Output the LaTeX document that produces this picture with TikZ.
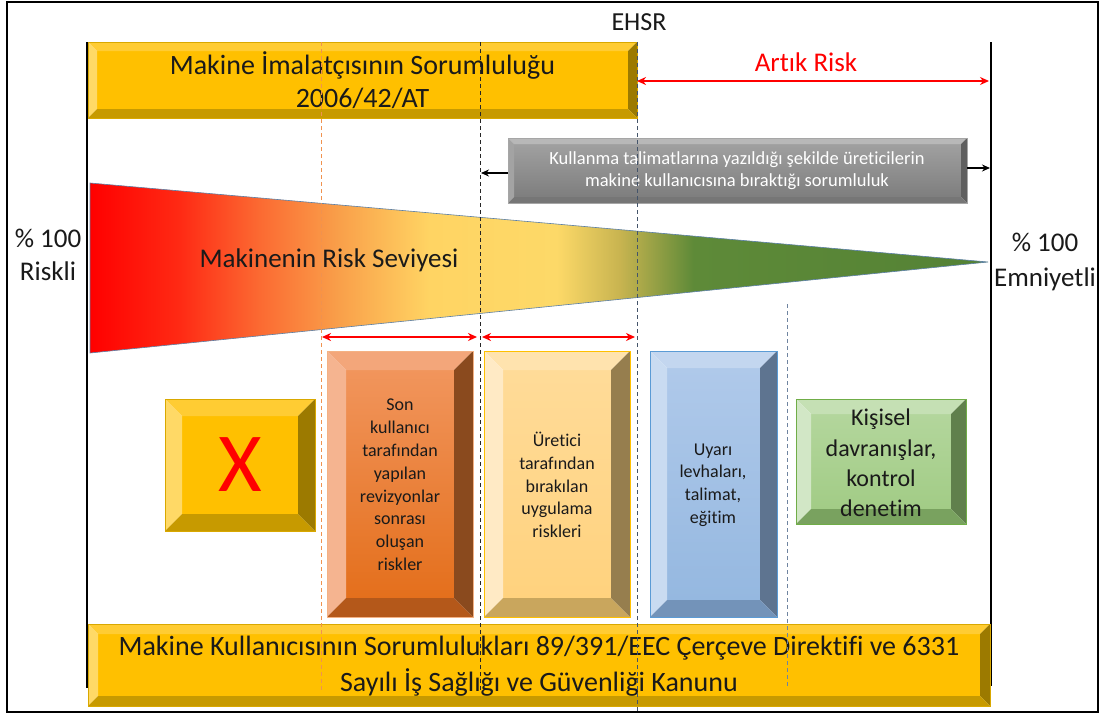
\documentclass[tikz,border=0pt]{standalone}
\usepackage{fontspec}
\setmainfont{Carlito}[Ligatures=NoCommon]
\usetikzlibrary{arrows.meta}

% gradient of the risk triangle
\definecolor{rk1}{HTML}{FF0000}
\definecolor{rk2}{HTML}{FF2A14}
\definecolor{rk3}{HTML}{FB6A32}
\definecolor{rk4}{HTML}{F9A04A}
\definecolor{rk5}{HTML}{FFD463}
\definecolor{rk6}{HTML}{FDD968}
\definecolor{rk7}{HTML}{C8B450}
\definecolor{rk8}{HTML}{5E8A38}
\definecolor{rk9}{HTML}{548235}
\pgfdeclarehorizontalshading{risk}{100bp}{color(0bp)=(rk1); color(25bp)=(rk1); color(30bp)=(rk2); color(34.44bp)=(rk3); color(38.89bp)=(rk4); color(43.89bp)=(rk5); color(51bp)=(rk6); color(54.5bp)=(rk7); color(58.6bp)=(rk8); color(75bp)=(rk9); color(100bp)=(rk9)}

% bevel colours
\definecolor{goldT}{HTML}{FFCC33}
\definecolor{goldL}{HTML}{FFD966}
\definecolor{goldR}{HTML}{9C7A00}
\definecolor{goldB}{HTML}{C79A00}
\definecolor{goldE}{HTML}{D9A800}
\definecolor{orT}{HTML}{F3A67A}
\definecolor{orL}{HTML}{F5B490}
\definecolor{orR}{HTML}{8A4A1E}
\definecolor{orB}{HTML}{B4581A}
\definecolor{orE}{HTML}{F4B183}
\definecolor{yeT}{HTML}{FFE3AE}
\definecolor{yeL}{HTML}{FFEAC5}
\definecolor{yeR}{HTML}{967E4E}
\definecolor{yeB}{HTML}{C9A65D}
\definecolor{yeE}{HTML}{FFC000}
\definecolor{blT}{HTML}{C3D6EF}
\definecolor{blL}{HTML}{C9DBF1}
\definecolor{blR}{HTML}{5E7490}
\definecolor{blB}{HTML}{7393B9}
\definecolor{blE}{HTML}{5B9BD5}
\definecolor{gnT}{HTML}{C5E0B4}
\definecolor{gnL}{HTML}{D2E7C6}
\definecolor{gnR}{HTML}{60804C}
\definecolor{gnB}{HTML}{79A25F}
\definecolor{gnE}{HTML}{70AD47}
\definecolor{gyT}{HTML}{B8B8B8}
\definecolor{gyL}{HTML}{A3A3A3}
\definecolor{gyR}{HTML}{5F5F5F}
\definecolor{gyB}{HTML}{767676}
\definecolor{gyE}{HTML}{A6A6A6}
\definecolor{ehsrline}{HTML}{44546A}
\definecolor{orline}{HTML}{F0924F}
\definecolor{gyline}{HTML}{6F84A0}
\definecolor{triedge}{HTML}{5B7FA6}

\definecolor{goldFace}{HTML}{FFC000}
\definecolor{orTop}{HTML}{F1955C}
\definecolor{orBot}{HTML}{E46F1C}
\definecolor{yeTop}{HTML}{FFDB98}
\definecolor{yeBot}{HTML}{FFD27E}
\definecolor{blTop}{HTML}{AFC9EA}
\definecolor{blBot}{HTML}{95B8E0}
\definecolor{gnTop}{HTML}{B3D69C}
\definecolor{gnBot}{HTML}{A2CC86}
\definecolor{gyTop}{HTML}{A0A0A0}
\definecolor{gyBot}{HTML}{7E7E7E}
\definecolor{txt}{HTML}{1A1A1A}

\tikzset{
  goldface/.style={fill=goldFace},
  orface/.style={top color=orTop, bottom color=orBot},
  yeface/.style={top color=yeTop, bottom color=yeBot},
  blface/.style={top color=blTop, bottom color=blBot},
  gnface/.style={top color=gnTop, bottom color=gnBot},
  gyface/.style={top color=gyTop, bottom color=gyBot},
  lbl/.style={inner sep=0pt, align=center, text=txt},
  bigtxt/.style={lbl, font=\fontsize{28}{33}\selectfont},
  boxtxt/.style={lbl, font=\fontsize{18}{22.8}\selectfont},
  redarrow/.style={draw=red, line width=1.6pt, {Stealth[length=9pt,width=8pt]}-{Stealth[length=9pt,width=8pt]}},
  blkarrow/.style={draw=black, line width=1.6pt, -{Stealth[length=8pt,width=7pt]}},
  dashline/.style={line width=1pt, dash pattern=on 4pt off 3pt}
}

% bevelled box: x1 y1 x2 y2 depth prefix
\newcommand\bevbox[6]{%
  \path[#6face] (#1+#5,#2+#5) rectangle (#3-#5,#4-#5);
  \fill[#6T] (#1,#2) -- (#3,#2) -- (#3-#5,#2+#5) -- (#1+#5,#2+#5) -- cycle;
  \fill[#6L] (#1,#2) -- (#1+#5,#2+#5) -- (#1+#5,#4-#5) -- (#1,#4) -- cycle;
  \fill[#6R] (#3,#2) -- (#3,#4) -- (#3-#5,#4-#5) -- (#3-#5,#2+#5) -- cycle;
  \fill[#6B] (#1,#4) -- (#3,#4) -- (#3-#5,#4-#5) -- (#1+#5,#4-#5) -- cycle;
  \draw[#6E, line width=0.8pt] (#1,#2) rectangle (#3,#4);
}

\begin{document}
\begin{tikzpicture}[x=1pt, y=-1pt]
\useasboundingbox (0,0) rectangle (1105,715);
\fill[white] (0,0) rectangle (1105,715);
% outer frame
\draw[line width=2pt] (7,2) rectangle (1098,712);
% scale lines
\coordinate (Ltop) at (87,42);  \coordinate (Lbot) at (87,688);
\coordinate (Rtop) at (991,42); \coordinate (Rbot) at (991,686);
\draw[line width=2pt] (Ltop) -- (Lbot);
\draw[line width=2pt] (Rtop) -- (Rbot);

% top and bottom bars
\bevbox{88}{42}{637}{118}{9}{gold}
\bevbox{88}{624}{990}{706}{10}{gold}
% grey instruction box
\bevbox{508}{138}{967}{203}{6}{gy}

% risk triangle
\path[shading=risk, draw=triedge, line width=0.6pt] (90,183) -- (988,262) -- (90,353) -- cycle;

% lower boxes
\bevbox{165}{399}{315}{531}{17}{gold}
\bevbox{327}{351}{473}{617}{19}{or}
\bevbox{484}{351}{630}{617}{19}{ye}
\bevbox{650}{351}{777}{617}{17}{bl}
\bevbox{796}{399}{966}{524}{15}{gn}

% texts
\node[lbl, font=\fontsize{26}{30}\selectfont] (ehsr) at (639,22) {EHSR};
\node[lbl, font=\fontsize{27}{30}\selectfont, text=red] (artik) at (806,62) {Artık Risk};
\node[bigtxt] (manuf) at (362.5,80) {Makine İmalatçısının Sorumluluğu\\2006/42/AT};
\node[bigtxt, font=\fontsize{28}{36}\selectfont] (user) at (539,666) {Makine Kullanıcısının Sorumlulukları 89/391/EEC Çerçeve Direktifi ve 6331\\Sayılı İş Sağlığı ve Güvenliği Kanunu};
\node[lbl, font=\fontsize{18.5}{22}\selectfont, text=white] (instr) at (737,171) {Kullanma talimatlarına yazıldığı şekilde üreticilerin\\makine kullanıcısına bıraktığı sorumluluk};
\node[lbl, font=\fontsize{27}{33}\selectfont] (risklvl) at (329,260) {Makinenin Risk Seviyesi};
\node[lbl, font=\fontsize{27}{33}\selectfont] (riskli) at (48,255) {\% 100\\Riskli};
\node[lbl, font=\fontsize{27}{35}\selectfont] (emniyet) at (1045,262) {\% 100\\Emniyetli};
\node[lbl, font=\fontsize{84}{84}\selectfont, text=red] (xmark) at (240,465) {X};
\node[boxtxt] (son) at (400,485) {Son\\kullanıcı\\tarafından\\yapılan\\revizyonlar\\sonrası\\oluşan\\riskler};
\node[boxtxt] (uret) at (557,485) {Üretici\\tarafından\\bırakılan\\uygulama\\riskleri};
\node[boxtxt] (uyari) at (713,485) {Uyarı\\levhaları,\\talimat,\\eğitim};
\node[lbl, font=\fontsize{24}{30.3}\selectfont] (kisi) at (881,463) {Kişisel\\davranışlar,\\kontrol\\denetim};

% arrows
\coordinate (arL) at (637,81); \coordinate (arR) at (989,81);
\draw[redarrow] (arL) -- (arR);
\coordinate (s1) at (322,337); \coordinate (s2) at (477,337);
\coordinate (s3) at (482,337); \coordinate (s4) at (635,337);
\draw[redarrow] (s1) -- (s2);
\draw[redarrow] (s3) -- (s4);
\coordinate (gL) at (508,173); \coordinate (gLe) at (481,173);
\coordinate (gR) at (967,168); \coordinate (gRe) at (990,168);
\draw[blkarrow] (gL) -- (gLe);
\draw[blkarrow] (gR) -- (gRe);

% dashed guide lines
\coordinate (o1) at (321,42);  \coordinate (o2) at (321,690);
\coordinate (b1) at (480,42);  \coordinate (b2) at (480,692);
\coordinate (e1) at (637,42);  \coordinate (e2) at (637,712);
\coordinate (g1) at (787,304); \coordinate (g2) at (787,686);
\draw[dashline, orline] (o1) -- (o2);
\draw[dashline, black!85] (b1) -- (b2);
\draw[dashline, ehsrline] (e1) -- (e2);
\draw[dashline, gyline] (g1) -- (g2);
\end{tikzpicture}
\end{document}
